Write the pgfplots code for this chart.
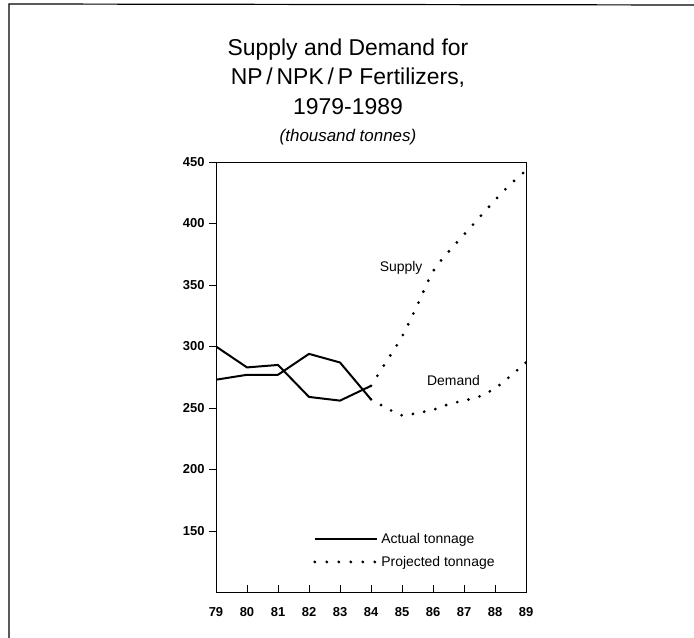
\documentclass[border=0pt]{standalone}
\usepackage{fontspec}
\setmainfont{Liberation Sans}
\usepackage{pgfplots}
\pgfplotsset{compat=1.18}
\begin{document}
\begin{tikzpicture}
\useasboundingbox (0,0) rectangle (694bp,638bp);
\draw[line width=1.2bp] (9bp,0) -- (9bp,634bp) -- (694bp,633bp);
\node[anchor=base] at (348bp,582bp) {\fontsize{23}{28}\selectfont Supply and Demand for};
\node[anchor=base] at (348bp,553bp) {\fontsize{23}{28}\selectfont NP\,/\,NPK\,/\,P Fertilizers,};
\node[anchor=base] at (348bp,523bp) {\fontsize{23}{28}\selectfont 1979-1989};
\node[anchor=base] at (348bp,496bp) {\fontsize{17}{20}\selectfont\itshape (thousand tonnes)};
\begin{axis}[
  at={(216bp,45.5bp)}, anchor=south west,
  scale only axis, width=310bp, height=430.5bp,
  xmin=79, xmax=89, ymin=100, ymax=450,
  xtick={79,...,89}, ytick={150,200,...,450},
  tick pos=left, tick align=inside, major tick length=7bp,
  ytick style={xshift=-7bp},
  tick style={line width=0.8bp, black},
  axis line style={line width=0.8bp},
  /pgf/number format/assume math mode=true,
  xticklabel style={font=\fontsize{13}{13}\selectfont\bfseries, yshift=-11bp},
  yticklabel style={font=\fontsize{13}{13}\selectfont\bfseries, xshift=-8bp},
  legend style={at={(axis cs:82.13,134)}, anchor=west, draw=none, fill=none,
    font=\fontsize{14}{14}\selectfont, row sep=5bp, inner sep=0pt,
    nodes={inner sep=3bp}, cells={anchor=west}},
  legend image code/.code={\draw[#1] (0bp,0bp) -- (62bp,0bp);},
]
\addplot[black, line width=2bp, line join=round] coordinates {(79,300) (80,283) (81,285) (82,259) (83,256) (84,268)};
\addlegendentry{Actual tonnage}
\addplot[black, line width=3.1bp, line cap=round, dash pattern=on 0pt off 12bp, smooth] coordinates {
(84,268) (84.5,288) (85,308) (85.5,334) (86,361) (86.5,377) (87,391) (87.5,405) (88,419) (88.5,432) (89,443)};
\addlegendentry{Projected tonnage}
\addplot[black, line width=2bp, line join=round, forget plot] coordinates {(79,273) (80,277) (81,277) (82,294) (83,287) (84,257)};
\addplot[black, line width=3.1bp, line cap=round, dash pattern=on 0pt off 11.5bp, smooth, forget plot] coordinates {
(84,257) (84.5,250) (85,244) (85.5,246) (86,248.5) (86.5,253) (87,256) (87.5,259.5) (88,266) (88.5,276) (89,287)};
\node[font=\fontsize{14}{14}\selectfont] at (axis cs:84.97,364) {Supply};
\node[font=\fontsize{14}{14}\selectfont] at (axis cs:86.66,272) {Demand};
\end{axis}
\end{tikzpicture}
\end{document}
